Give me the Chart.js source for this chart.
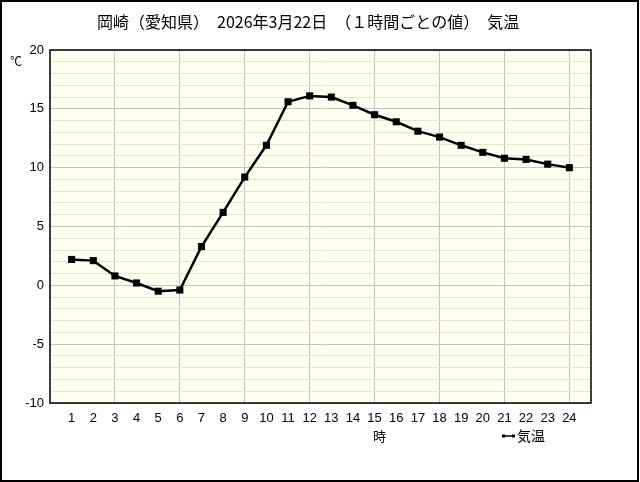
<!DOCTYPE html>
<html>
<head>
<meta charset="utf-8">
<script src="https://cdn.jsdelivr.net/npm/chart.js@4"></script>
<style>
  body { margin: 0; background: #fff; }
  #wrap { position: absolute; left: 0; top: 0; width: 640px; height: 482px; }
</style>
</head>
<body>
<div id="wrap"><canvas id="tempChart" width="640" height="482"></canvas></div>
<script>
// hourly temperature, Okazaki 2026-03-22
var hours = [1, 2, 3, 4, 5, 6, 7, 8, 9, 10, 11, 12, 13, 14, 15, 16, 17, 18, 19, 20, 21, 22, 23, 24];
var temps = [2.2, 2.1, 0.8, 0.2, -0.5, -0.4, 3.3, 6.2, 9.2, 11.9, 15.6, 16.1, 16.0, 15.3, 14.5, 13.9, 13.1, 12.6, 11.9, 11.3, 10.8, 10.7, 10.3, 10.0];
var yTicks = [-10, -5, 0, 5, 10, 15, 20];
var titleText = '岡崎（愛知県）　2026年3月22日　（１時間ごとの値）　気温';
var seriesName = '気温';

var jpFont = '"Noto Sans CJK JP", "DejaVu Sans", sans-serif';

// background, frame, title and the little legend
var decor = {
    id: 'decor',
    beforeDraw: function(chart) {
        var ctx = chart.ctx;
        var a = chart.chartArea;
        ctx.save();
        ctx.fillStyle = '#ffffff';
        ctx.fillRect(0, 0, chart.width, chart.height);
        ctx.fillStyle = '#fffff2';
        ctx.fillRect(a.left, a.top, a.right - a.left, a.bottom - a.top);
        ctx.restore();
    },
    beforeDatasetsDraw: function(chart) {
        var ctx = chart.ctx;
        var a = chart.chartArea;
        ctx.save();
        ctx.strokeStyle = '#000';
        ctx.lineWidth = 1.5;
        ctx.strokeRect(a.left, a.top, a.right - a.left, a.bottom - a.top);
        ctx.restore();
    },
    afterDraw: function(chart) {
        var ctx = chart.ctx;
        ctx.save();
        // outer frame
        ctx.strokeStyle = '#000';
        ctx.lineWidth = 2;
        ctx.strokeRect(1, 1, 637, 480);

        ctx.fillStyle = '#000';
        ctx.textBaseline = 'middle';
        ctx.textAlign = 'left';
        ctx.font = '16px ' + jpFont;
        ctx.fillText(titleText, 97, 22);

        ctx.font = '12px ' + jpFont;
        ctx.fillText('℃', 10, 61);
        ctx.font = '13px ' + jpFont;
        ctx.fillText('時', 373, 436);

        // legend sample
        ctx.strokeStyle = '#000';
        ctx.lineWidth = 1.5;
        ctx.beginPath();
        ctx.moveTo(503, 436);
        ctx.lineTo(514, 436);
        ctx.stroke();
        ctx.fillRect(502, 434.5, 3, 3);
        ctx.fillRect(512, 434.5, 3, 3);
        ctx.font = '14px ' + jpFont;
        ctx.fillText(seriesName, 517, 436);
        ctx.restore();
    }
};

document.addEventListener("DOMContentLoaded", function() {
    var ctx = document.getElementById('tempChart').getContext('2d');

    var points = hours.map(function(h, i) { return { x: h, y: temps[i] }; });

    var tempChart = new Chart(ctx, {
        type: 'line',
        data: {
            datasets: [{
                label: seriesName,
                data: points,
                borderColor: '#000',
                backgroundColor: '#000',
                borderWidth: 2.5,
                pointStyle: 'rect',
                pointRadius: 5,
                pointBorderWidth: 0,
                tension: 0
            }]
        },
        options: {
            responsive: false,
            animation: false,
            layout: { padding: { top: 50, right: 49, left: 0, bottom: 0 } },
            plugins: {
                legend: { display: false },
                title: { display: false },
                tooltip: { enabled: false }
            },
            scales: {
                x: {
                    type: 'linear',
                    min: 0,
                    max: 25,
                    afterFit: function(scale) { scale.height = 79; },
                    ticks: {
                        stepSize: 1,
                        autoSkip: false,
                        maxRotation: 0,
                        padding: 8,
                        color: '#000',
                        font: { family: 'Liberation Sans', size: 13 },
                        callback: function(v) { return (v >= 1 && v <= 24) ? String(v) : ''; }
                    },
                    grid: {
                        drawTicks: false,
                        lineWidth: 1,
                        color: function(c) {
                            var v = c.tick.value;
                            return (v % 3 === 0 && v > 0 && v < 25) ? '#c4c4c4' : 'rgba(0,0,0,0)';
                        }
                    },
                    border: { display: false }
                },
                y: {
                    min: -10,
                    max: 20,
                    afterFit: function(scale) { scale.width = 50; },
                    ticks: {
                        stepSize: 1,
                        autoSkip: false,
                        padding: 6,
                        color: '#000',
                        font: { family: 'Liberation Sans', size: 13 },
                        callback: function(v) { return yTicks.indexOf(v) >= 0 ? String(v) : ''; }
                    },
                    grid: {
                        drawTicks: false,
                        lineWidth: 1,
                        color: function(c) {
                            return c.tick.value % 5 === 0 ? '#c4c4c4' : '#e8e3c8';
                        }
                    },
                    border: { display: false }
                }
            }
        },
        plugins: [decor]
    });
});
</script>
</body>
</html>
